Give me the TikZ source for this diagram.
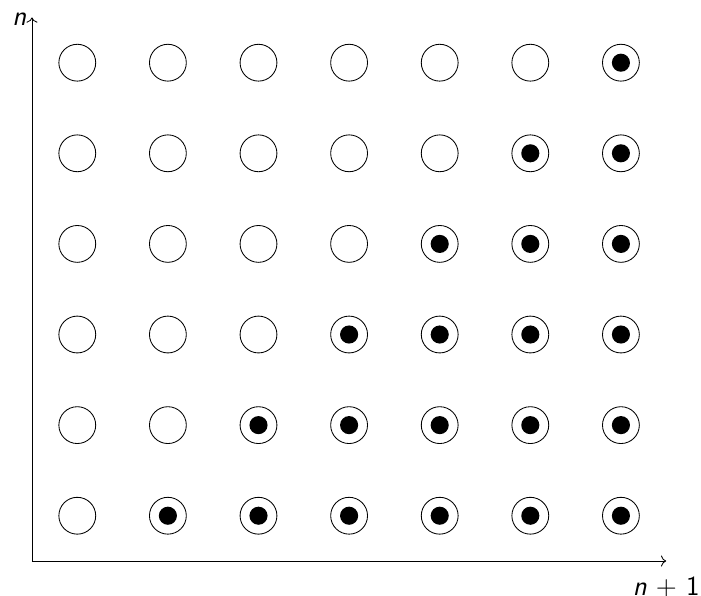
\documentclass[tikz,border=0pt]{standalone}
\usetikzlibrary{arrows.meta,positioning}
\tikzset{
  cell/.style={circle,draw,thin,minimum size=6.1mm,inner sep=0pt},
  dot/.style={circle,fill=black,minimum size=3mm,inner sep=0pt},
  axis/.style={->,thin},
  lbl/.style={font=\fontsize{13}{15}\selectfont\sffamily,inner sep=0pt}
}

\begin{document}
\begin{tikzpicture}[x=1.5cm,y=1.5cm]
    \useasboundingbox (-0.353,-0.375) rectangle (7.384,6.192);
    \coordinate (o) at (0,0);
    \coordinate (xe) at (7,0);
    \coordinate (ye) at (0,6);
    \draw[axis] (o) -- (xe);
    \draw[axis] (o) -- (ye);
    \node[lbl,left=2.4pt of ye,yshift=-1pt] (ylab) {\textit{n}};
    \node[lbl,below=2.6mm of xe] (xlab) {\textit{n}\,\,+\,\,1};
    % grid: dot where column > row
    \foreach \i in {1,...,7}
      \foreach \j in {1,...,6} {
        \node[cell] (c\i\j) at (\i-0.5,\j-0.5) {};
        \ifnum\i>\j \node[dot] (d\i\j) at (c\i\j) {}; \fi
      }
  \end{tikzpicture}
\end{document}
